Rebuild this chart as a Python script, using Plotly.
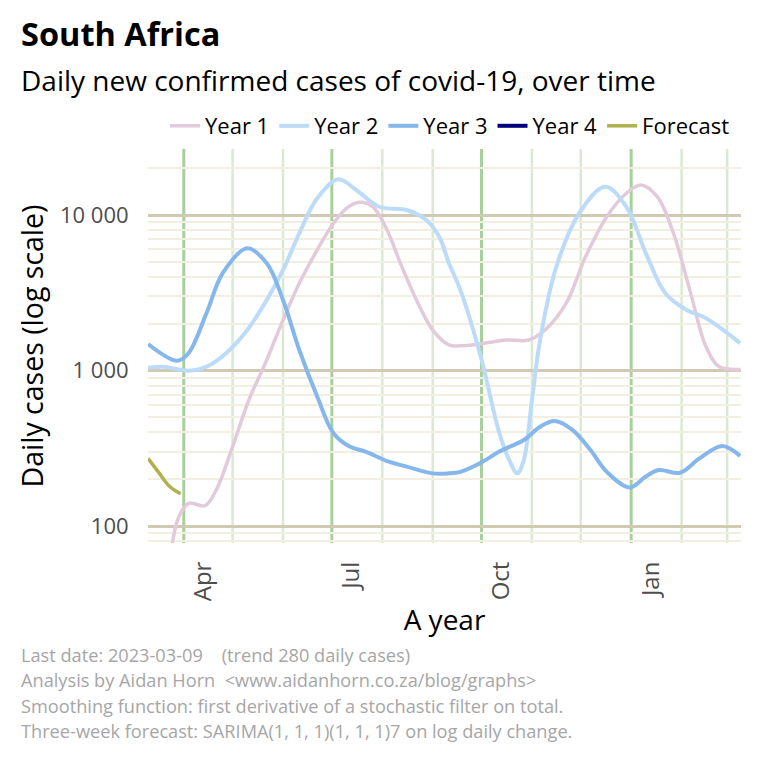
import plotly.graph_objects as go

# ---------------- data (display dates on a common Mar-10 .. Mar-9 year) ----------------
year1_dates = ["2022-03-22", "2022-03-25", "2022-03-29", "2022-04-04", "2022-04-14", "2022-04-21",
               "2022-05-01", "2022-05-11", "2022-05-22", "2022-06-01", "2022-06-11", "2022-06-22",
               "2022-07-02", "2022-07-10", "2022-07-18", "2022-07-26", "2022-08-03", "2022-08-13",
               "2022-08-24", "2022-09-01", "2022-09-11", "2022-09-18", "2022-09-30", "2022-10-16",
               "2022-10-30", "2022-11-09", "2022-11-22", "2022-12-04", "2022-12-17", "2022-12-29",
               "2023-01-07", "2023-01-17", "2023-01-27", "2023-02-06", "2023-02-16", "2023-02-24",
               "2023-03-09"]
year1_cases = [40, 78, 115, 140, 135, 171,
               324, 646, 1170, 2110, 3640, 5960,
               8840, 11040, 12060, 11300, 8410, 4650,
               2570, 1820, 1460, 1440, 1480, 1570,
               1570, 1820, 2700, 5400, 9750, 13800,
               15600, 13120, 7630, 3300, 1420, 1060,
               1016]

year2_dates = ["2022-03-10", "2022-03-19", "2022-04-04", "2022-04-15", "2022-04-27", "2022-05-10",
               "2022-05-22", "2022-06-01", "2022-06-11", "2022-06-22", "2022-07-05", "2022-07-16",
               "2022-07-30", "2022-08-16", "2022-08-28", "2022-09-05", "2022-09-11", "2022-09-18",
               "2022-09-30", "2022-10-12", "2022-10-18", "2022-10-23", "2022-10-27", "2022-11-01",
               "2022-11-06", "2022-11-16", "2022-11-30", "2022-12-16", "2022-12-29", "2023-01-10",
               "2023-01-22", "2023-02-04", "2023-02-16", "2023-03-09"]
year2_cases = [1042, 1058, 998, 1058, 1291, 1820,
               2840, 4430, 7630, 12800, 16970, 14480,
               11300, 10770, 9290, 7250, 4890, 3300,
               1290, 394, 266, 218, 266, 646,
               1570, 4650, 10250, 15200, 11300, 5680,
               3140, 2450, 2170, 1500]

year3_dates = ["2022-03-10", "2022-03-28", "2022-04-04", "2022-04-15", "2022-04-25", "2022-05-10",
               "2022-05-22", "2022-06-01", "2022-06-11", "2022-06-22", "2022-07-02", "2022-07-12",
               "2022-07-22", "2022-08-05", "2022-08-16", "2022-09-01", "2022-09-11", "2022-09-18",
               "2022-09-30", "2022-10-12", "2022-10-27", "2022-11-06", "2022-11-15", "2022-11-26",
               "2022-12-07", "2022-12-17", "2022-12-31", "2023-01-10", "2023-01-18", "2023-01-31",
               "2023-02-12", "2023-02-26", "2023-03-09"]
year3_cases = [1480, 1156, 1297, 2345, 4240, 6110,
               4890, 2840, 1355, 680, 395, 324,
               300, 259, 241, 218, 218, 223,
               253, 301, 357, 435, 473, 414,
               308, 223, 177, 208, 229, 220,
               272, 327, 282]

year4_dates = []
year4_cases = []

forecast_dates = ["2022-03-10", "2022-03-17", "2022-03-23", "2022-03-30"]
forecast_cases = [272, 218, 181, 161]

quarter_starts = ["2022-04-01", "2022-07-01", "2022-10-01", "2023-01-01"]
month_starts = ["2022-05-01", "2022-06-01", "2022-08-01", "2022-09-01",
                "2022-11-01", "2022-12-01", "2023-02-01", "2023-03-01"]
x_tick_vals = ["2022-04-13", "2022-07-13", "2022-10-13", "2023-01-13"]
x_tick_text = ["Apr", "Jul", "Oct", "Jan"]
y_tick_vals = [100, 1000, 10000]
y_tick_text = ["100", "1 000", "10 000"]

caption_lines = [
    "Last date: 2023-03-09\u00a0\u00a0\u00a0\u00a0(trend 280 daily cases)",
    "Analysis by Aidan Horn\u00a0\u00a0&lt;www.aidanhorn.co.za/blog/graphs&gt;",
    "Smoothing function: first derivative of a stochastic filter on total.",
    "Three-week forecast: SARIMA(1, 1, 1)(1, 1, 1)7 on log daily change.",
]

# ---------------- layout constants ----------------
W = H = 760
L, R, T, B = 148, 19, 149, 217
PW, PH = W - L - R, H - T - B
FONT = "Open Sans"


def px(xp):
    return (xp - L) / PW


def py(yp):
    return (H - B - yp) / PH


series = [
    ("Year 1", year1_dates, year1_cases, "#e3cadb", 3.5),
    ("Year 2", year2_dates, year2_cases, "#bcdbf9", 4),
    ("Year 3", year3_dates, year3_cases, "#86b7ec", 4),
    ("Year 4", year4_dates, year4_cases, "#00007f", 4),
    ("Forecast", forecast_dates, forecast_cases, "#adb24e", 3.5),
]

fig = go.Figure()
for name, xs, ys, col, w in series:
    fig.add_trace(go.Scatter(
        x=xs if xs else [None], y=ys if ys else [None], name=name, mode="lines",
        line=dict(color=col, width=w, shape="spline", smoothing=1.0),
        hoverinfo="skip",
    ))

for d in month_starts:
    fig.add_shape(type="line", xref="x", yref="paper", x0=d, x1=d, y0=0, y1=1,
                  line=dict(color="#dbe9d3", width=2.5), layer="between")
for d in quarter_starts:
    fig.add_shape(type="line", xref="x", yref="paper", x0=d, x1=d, y0=0, y1=1,
                  line=dict(color="#a8d09c", width=3), layer="between")

annotations = [
    dict(text="<b>South Africa</b>", x=px(19), y=py(33), font=dict(size=32.5, color="#000000")),
    dict(text="Daily new confirmed cases of covid-19, over time", x=px(19), y=py(80),
         font=dict(size=28, color="#000000")),
]
for i, line in enumerate(caption_lines):
    annotations.append(dict(text=line, x=px(19), y=py(655 + 25.3 * i),
                            font=dict(size=18.2, color="#a6a6a6")))
for a in annotations:
    a.update(xref="paper", yref="paper", xanchor="left", yanchor="middle", showarrow=False)

fig.update_layout(
    width=W, height=H,
    margin=dict(l=L, r=R, t=T, b=B, autoexpand=False),
    paper_bgcolor="white", plot_bgcolor="white",
    font=dict(family=FONT, color="#000000"),
    showlegend=True,
    legend=dict(orientation="h", x=px(735), xanchor="right", y=py(126), yanchor="middle",
                font=dict(size=22, color="#000000"), bgcolor="rgba(0,0,0,0)",
                itemwidth=30, tracegroupgap=0),
    annotations=annotations,
    xaxis=dict(
        type="date", range=["2022-03-10", "2023-03-09 12:00"],
        tickmode="array", tickvals=x_tick_vals, ticktext=x_tick_text, tickangle=-90,
        tickfont=dict(size=24, color="#4d4d4d"), ticks="outside", ticklen=8,
        tickcolor="rgba(0,0,0,0)", showgrid=False, zeroline=False, showline=False,
        title=dict(text="A year", font=dict(size=28, color="#000000"), standoff=0),
    ),
    yaxis=dict(
        type="log", range=[1.8907, 4.4244],
        tickmode="array", tickvals=y_tick_vals, ticktext=y_tick_text,
        tickfont=dict(size=22, color="#4d4d4d"), ticks="outside", ticklen=14,
        tickcolor="rgba(0,0,0,0)",
        showgrid=True, gridcolor="#d1cab2", gridwidth=3,
        minor=dict(dtick="D1", showgrid=True, gridcolor="#f3efe0", gridwidth=1.5, ticks=""),
        zeroline=False, showline=False,
        title=dict(text="Daily cases (log scale)", font=dict(size=28.5, color="#000000"), standoff=7),
    ),
)

fig.write_html("out.html", config={"displayModeBar": False},
               post_script="document.body.style.margin='0';")
